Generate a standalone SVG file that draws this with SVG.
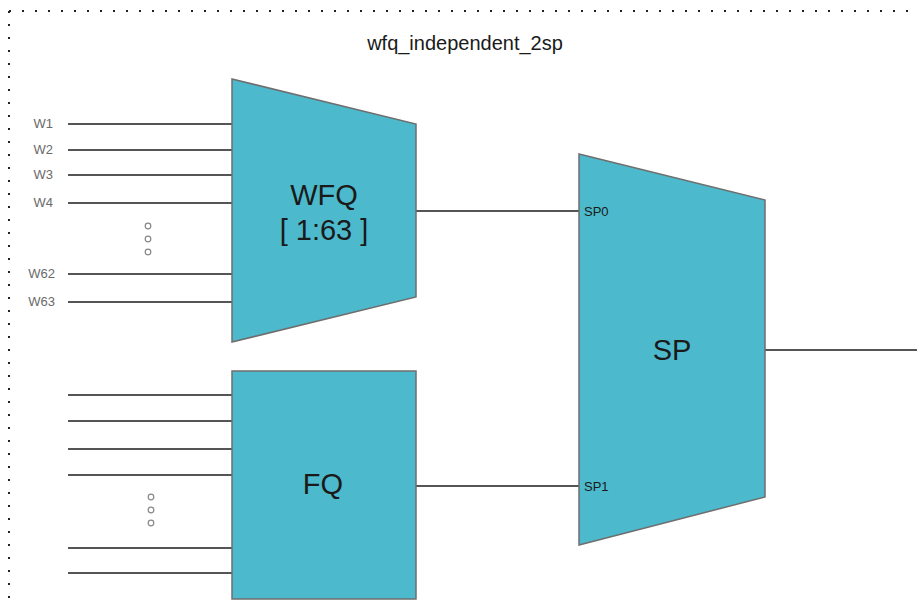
<svg xmlns="http://www.w3.org/2000/svg" width="917" height="605" viewBox="0 0 917 605">
<style>
.shape{fill:#4db9cc;stroke:#6e6e6e;stroke-width:1.5}
.wire{stroke:#555;stroke-width:2;fill:none}
.lbl{font-family:"Liberation Sans",Arial,sans-serif;fill:#1a1a1a}
.big{font-size:29px;text-anchor:middle}
.port{font-size:13px}
.in{font-family:"Liberation Sans",Arial,sans-serif;fill:#6a6a6a;font-size:13px;text-anchor:end}
.dot{fill:none;stroke:#888;stroke-width:1.2}
.border{stroke:#222;stroke-width:2;stroke-dasharray:2 11;fill:none}
</style>
<rect width="917" height="605" fill="#fff"/>
<g id="frame">
<line class="border" x1="9" y1="11" x2="917" y2="11"/>
<line class="border" x1="9" y1="11" x2="9" y2="605"/>
<text class="lbl" x="465" y="50" font-size="20" text-anchor="middle" fill="#333">wfq_independent_2sp</text>
</g>
<g id="connectors">
<line class="wire" x1="68" y1="124" x2="232" y2="124"/>
<line class="wire" x1="68" y1="150" x2="232" y2="150"/>
<line class="wire" x1="68" y1="175" x2="232" y2="175"/>
<line class="wire" x1="68" y1="203" x2="232" y2="203"/>
<line class="wire" x1="68" y1="274" x2="232" y2="274"/>
<line class="wire" x1="68" y1="302" x2="232" y2="302"/>
<line class="wire" x1="68" y1="395" x2="232" y2="395"/>
<line class="wire" x1="68" y1="421" x2="232" y2="421"/>
<line class="wire" x1="68" y1="449" x2="232" y2="449"/>
<line class="wire" x1="68" y1="475" x2="232" y2="475"/>
<line class="wire" x1="68" y1="548" x2="232" y2="548"/>
<line class="wire" x1="68" y1="573" x2="232" y2="573"/>
<line class="wire" x1="416" y1="211" x2="579" y2="211"/>
<line class="wire" x1="416" y1="486" x2="579" y2="486"/>
<line class="wire" x1="765" y1="350" x2="917" y2="350"/>
</g>
<g id="inputs">
<text class="in" x="53" y="128">W1</text>
<text class="in" x="53" y="154">W2</text>
<text class="in" x="53" y="179">W3</text>
<text class="in" x="53" y="207">W4</text>
<text class="in" x="55" y="278">W62</text>
<text class="in" x="55" y="306">W63</text>
<circle class="dot" cx="148" cy="226" r="2.8"/>
<circle class="dot" cx="148" cy="239" r="2.8"/>
<circle class="dot" cx="148" cy="252" r="2.8"/>
<circle class="dot" cx="151" cy="497" r="2.8"/>
<circle class="dot" cx="151" cy="510" r="2.8"/>
<circle class="dot" cx="151" cy="523" r="2.8"/>
</g>
<g id="wfq">
<polygon class="shape" points="232,79 416,124 416,297 232,342"/>
<text class="lbl big" x="324" y="205">WFQ</text>
<text class="lbl big" x="324" y="240">[ 1:63 ]</text>
</g>
<g id="fq">
<rect class="shape" x="232" y="371" width="184" height="228"/>
<text class="lbl big" x="323" y="494">FQ</text>
</g>
<g id="sp">
<polygon class="shape" points="579,154 765,200 765,497 579,545"/>
<text class="lbl big" x="672" y="360">SP</text>
<text class="lbl port" x="584" y="216">SP0</text>
<text class="lbl port" x="584" y="491">SP1</text>
</g>
</svg>
